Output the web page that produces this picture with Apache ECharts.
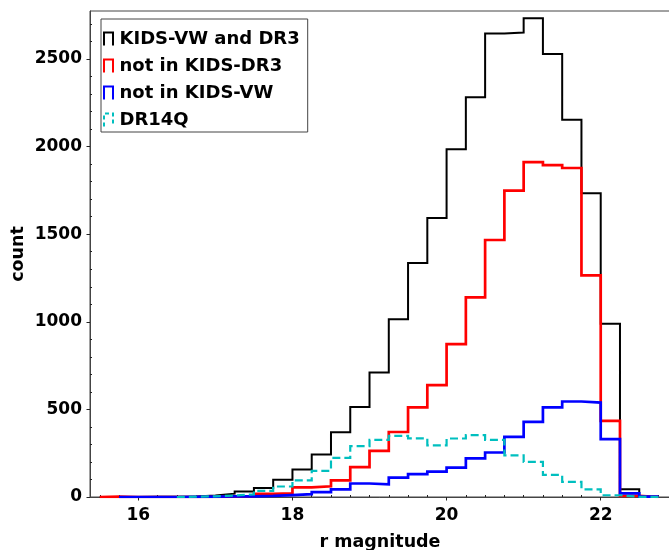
<!DOCTYPE html>
<html>
<head>
<meta charset="utf-8">
<script src="https://cdn.jsdelivr.net/npm/echarts@6/dist/echarts.min.js"></script>
<style>
html,body{margin:0;padding:0;background:#fff;}
#chart{width:669px;height:550px;}
</style>
</head>
<body>
<div id="chart"></div>
<script>
// Bin edges (r magnitude), 0.25 wide
const binEdges = [15.5,15.75,16.0,16.25,16.5,16.75,17.0,17.25,17.5,17.75,18.0,18.25,18.5,18.75,19.0,19.25,19.5,19.75,20.0,20.25,20.5,20.75,21.0,21.25,21.5,21.75,22.0,22.25,22.5,22.75];
// Counts per bin (null = bin not covered by that histogram)
const kidsVwAndDr3 = [0,0,1,1,3,8,19,31,52,98,157,242,370,514,711,1015,1335,1592,1985,2282,2646,2651,2733,2528,2153,1734,989,44,1];
const notInKidsDr3 = [2,0,0,0,0,1,2,5,18,21,55,61,95,171,263,371,511,638,873,1139,1467,1749,1911,1894,1878,1265,434,6,0];
const notInKidsVw  = [null,0,0,0,1,2,3,4,6,11,16,28,44,77,72,111,130,145,168,221,254,343,429,511,545,539,330,21,2];
const dr14q        = [null,null,null,null,2,4,8,15,35,60,95,149,223,290,326,349,335,295,334,353,326,238,200,126,86,44,10,1,0];
// Tick labels
const xMajorTicks = [16,18,20,22];
const yMajorTicks = [0,500,1000,1500,2000,2500];
const seriesNames = ['KIDS-VW and DR3','not in KIDS-DR3','not in KIDS-VW','DR14Q'];

const xMinorTicks = [];
for (let v = 15.5; v <= 22.75 + 1e-9; v += 0.25) { if (xMajorTicks.indexOf(v) < 0) xMinorTicks.push(v); }
const yMinorTicks = [];
for (let v = 100; v <= 2700; v += 100) { if (v % 500 !== 0) yMinorTicks.push(v); }

function stepPoints(vals) {
  let first = 0;
  while (first < vals.length && vals[first] == null) first++;
  const pts = [[binEdges[first], 0]];
  for (let i = first; i < vals.length; i++) pts.push([binEdges[i], vals[i]]);
  pts.push([binEdges[binEdges.length - 1], 0]);
  return pts;
}

const colors = ['#000000', '#ff0000', '#0000ff', '#00bfbf'];
const widths = [2, 2.7, 2.7, 2.2];
const dataSets = [kidsVwAndDr3, notInKidsDr3, notInKidsVw, dr14q];
const FONT = 'DejaVu Sans';

const chart = echarts.init(document.getElementById('chart'), null, {renderer: 'canvas'});
const xMin = 15.373, xMax = 22.899, yMax = 2774;

chart.setOption({
  animation: false,
  backgroundColor: '#fff',
  grid: {left: 90, right: -1, top: 11, bottom: 53, containLabel: false, outerBoundsMode: 'none', show: true, borderColor: '#444', borderWidth: 1, backgroundColor: 'transparent'},
  legend: {
    orient: 'vertical', left: 101, top: 19,
    backgroundColor: '#fff', borderColor: '#444', borderWidth: 1,
    padding: [11, 8, 3, 2],
    itemWidth: 12, itemHeight: 13, itemGap: 9,
    icon: 'path://M0,13 L0,0 L9,0 L9,13',
    textStyle: {fontFamily: FONT, fontWeight: 'bold', fontSize: 18, color: '#000', lineHeight: 18},
    data: seriesNames.map((n, i) => ({
      name: n,
      itemStyle: {color: 'transparent', borderColor: colors[i], borderWidth: 2, borderType: i === 3 ? [4, 3] : 'solid'}
    }))
  },
  xAxis: [
    {
      type: 'value', min: xMin, max: xMax, position: 'bottom',
      axisLine: {show: true, lineStyle: {color: '#444', width: 1}},
      axisTick: {show: true, inside: false, length: 3.5, customValues: xMajorTicks, lineStyle: {color: '#222', width: 1}},
      axisLabel: {show: true, customValues: xMajorTicks, margin: 10, fontFamily: FONT, fontWeight: 'bold', fontSize: 17, color: '#000', formatter: v => String(v)},
      splitLine: {show: false},
      name: 'r magnitude', nameLocation: 'middle', nameGap: 36, nameMoveOverlap: false,
      nameTextStyle: {fontFamily: FONT, fontWeight: 'bold', fontSize: 17.5, color: '#000'}
    },
    {
      type: 'value', min: xMin, max: xMax, position: 'bottom',
      axisLine: {show: false},
      axisTick: {show: true, inside: true, length: 2, customValues: xMinorTicks, lineStyle: {color: '#222', width: 1}},
      axisLabel: {show: false},
      splitLine: {show: false}
    }
  ],
  yAxis: [
    {
      type: 'value', min: 0, max: yMax, position: 'left',
      axisLine: {show: true, lineStyle: {color: '#444', width: 1}},
      axisTick: {show: true, inside: false, length: 3.5, customValues: yMajorTicks, lineStyle: {color: '#222', width: 1}},
      axisLabel: {show: true, customValues: yMajorTicks, margin: 8, fontFamily: FONT, fontWeight: 'bold', fontSize: 17, color: '#000', formatter: v => String(v)},
      splitLine: {show: false},
      name: 'count', nameLocation: 'middle', nameGap: 63, nameRotate: 90, nameMoveOverlap: false,
      nameTextStyle: {fontFamily: FONT, fontWeight: 'bold', fontSize: 17.5, color: '#000'}
    },
    {
      type: 'value', min: 0, max: yMax, position: 'left',
      axisLine: {show: false},
      axisTick: {show: true, inside: true, length: 2, customValues: yMinorTicks, lineStyle: {color: '#222', width: 1}},
      axisLabel: {show: false},
      splitLine: {show: false}
    }
  ],
  series: dataSets.map((vals, i) => ({
    name: seriesNames[i],
    type: 'line',
    step: 'end',
    xAxisIndex: 0, yAxisIndex: 0,
    data: stepPoints(vals),
    showSymbol: false,
    symbol: 'none',
    color: colors[i],
    lineStyle: {color: colors[i], width: widths[i], type: i === 3 ? [8, 4] : 'solid', cap: 'butt', join: 'miter'},
    clip: true,
    z: 2 + i
  }))
});
</script>
</body>
</html>
